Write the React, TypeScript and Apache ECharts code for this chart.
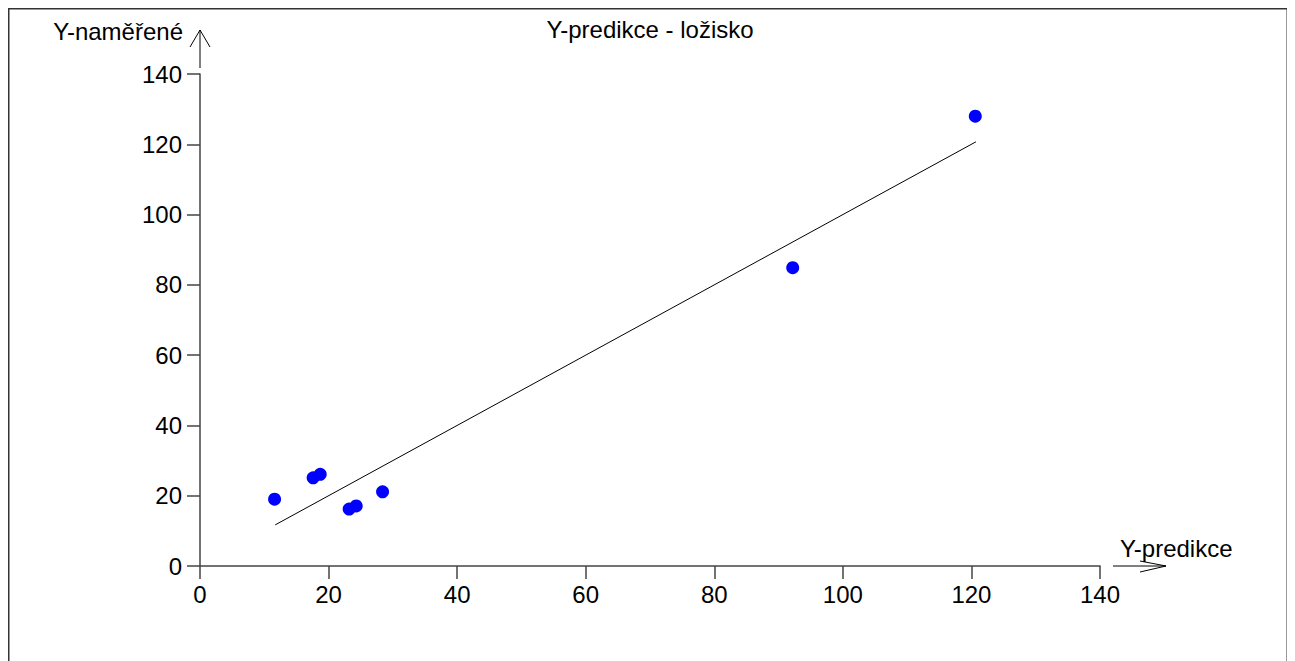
import React, { useEffect, useRef } from "react";
import * as echarts from "echarts";

const titleText = "Y-predikce - ložisko";
const xName = "Y-predikce";
const yName = "Y-naměřené";
const predicted = [11.6, 17.6, 18.7, 23.2, 24.3, 28.4, 92.2, 120.6];
const measured = [19.0, 25.1, 26.1, 16.2, 17.1, 21.1, 84.9, 128.0];
const fitX = [11.7, 120.7];
const fitY = [11.7, 120.7];

const FONT = "'Liberation Sans', Arial, sans-serif";
const FS = 24;

export default function App() {
  const ref = useRef<HTMLDivElement>(null);
  useEffect(() => {
    if (!ref.current) return;
    const chart = echarts.init(ref.current, null, { renderer: "svg" });
    const axisColor = "#444";
    const axisCommon = {
      min: 0,
      max: 140,
      interval: 20,
      axisLine: { show: true, onZero: false, lineStyle: { color: axisColor, width: 1.5 } },
      axisTick: { show: true, inside: false, length: 13, lineStyle: { color: axisColor, width: 1.5 } },
      splitLine: { show: false },
      axisLabel: { color: "#000", fontSize: FS, fontFamily: FONT, margin: 18 },
    };
    chart.setOption({
      animation: false,
      backgroundColor: "#fff",
      title: {
        text: titleText,
        left: 637,
        top: 4,
        textAlign: "center",
        textStyle: { color: "#000", fontSize: FS, fontWeight: "normal", fontFamily: FONT },
      },
      grid: { left: 192, right: 188, top: 66, bottom: 95, containLabel: false },
      xAxis: { type: "value", ...axisCommon, axisLabel: { ...axisCommon.axisLabel, margin: 16 } },
      yAxis: { type: "value", ...axisCommon },
      series: [
        {
          type: "scatter",
          data: predicted.map((x, i) => [x, measured[i]]),
          symbolSize: 13,
          itemStyle: { color: "#0000ff", opacity: 1 },
          z: 3,
        },
        {
          type: "line",
          data: fitX.map((x, i) => [x, fitY[i]]),
          showSymbol: false,
          symbol: "none",
          lineStyle: { color: "#000", width: 1 },
          z: 2,
        },
      ],
      graphic: [
        {
          type: "rect",
          shape: { x: 0.75, y: 0.75, width: 1278.5, height: 720 },
          style: { fill: "none", stroke: "#333", lineWidth: 1.5 },
          silent: true,
        },
        {
          type: "line",
          shape: { x1: 192, y1: 60, x2: 192, y2: 22 },
          style: { stroke: "#000", lineWidth: 1 },
        },
        {
          type: "polyline",
          shape: { points: [[182, 39], [192, 22], [202, 39]] },
          style: { stroke: "#000", lineWidth: 1, fill: "none" },
        },
        {
          type: "line",
          shape: { x1: 1105, y1: 558, x2: 1158, y2: 558 },
          style: { stroke: "#000", lineWidth: 1 },
        },
        {
          type: "polyline",
          shape: { points: [[1132, 553], [1158, 558], [1132, 564]] },
          style: { stroke: "#000", lineWidth: 1, fill: "none" },
        },
        {
          type: "text",
          x: 175,
          y: 23,
          style: {
            text: yName,
            fill: "#000",
            font: `${FS}px ${FONT}`,
            textAlign: "right",
            textVerticalAlign: "middle",
          },
        },
        {
          type: "text",
          x: 1112,
          y: 540,
          style: {
            text: xName,
            fill: "#000",
            font: `${FS}px ${FONT}`,
            textAlign: "left",
            textVerticalAlign: "middle",
          },
        },
      ],
    });
    return () => chart.dispose();
  }, []);
  return <div ref={ref} style={{ width: 1280, height: 653 }} />;
}
